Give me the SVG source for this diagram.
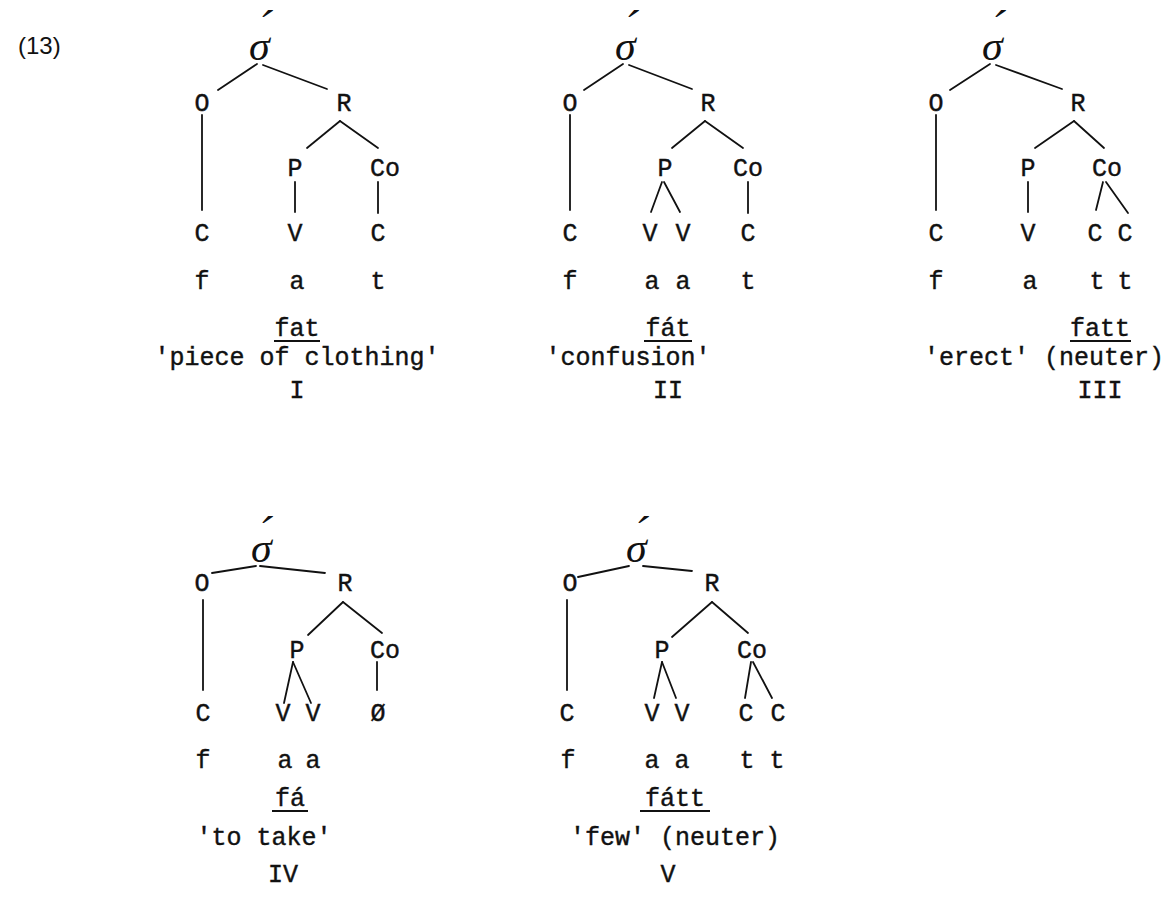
<svg xmlns="http://www.w3.org/2000/svg" width="1170" height="914" viewBox="0 0 1170 914">
<style>
.t{font-family:"Liberation Mono","DejaVu Sans Mono",monospace;font-size:25px;fill:#111;stroke:#111;stroke-width:0.4;text-anchor:middle}
.s{font-family:"Liberation Serif","DejaVu Serif",serif;font-style:italic;font-size:42px;fill:#111}
.a{font-size:46px}
.n{font-family:"Liberation Sans","DejaVu Sans",sans-serif;font-size:24px;fill:#111}
.e line{stroke:#111;stroke-width:1.8;stroke-linecap:round}
.u{stroke:#111;stroke-width:2}
</style>
<rect width="1170" height="914" fill="#fff"/>
<text class="n" x="18" y="54">(13)</text>

<g id="connectors" class="e">
<!-- I -->
<line x1="257" y1="64" x2="218" y2="90"/><line x1="263" y1="65" x2="327" y2="89"/>
<line x1="202" y1="115" x2="202" y2="210"/>
<line x1="340" y1="121" x2="307" y2="148"/><line x1="340" y1="121" x2="378" y2="148"/>
<line x1="295" y1="182" x2="295" y2="212"/>
<line x1="378" y1="182" x2="378" y2="213"/>
<!-- II -->
<line x1="623" y1="64" x2="584" y2="90"/><line x1="629" y1="65" x2="692" y2="89"/>
<line x1="570" y1="115" x2="570" y2="210"/>
<line x1="705" y1="121" x2="672" y2="148"/><line x1="705" y1="121" x2="743" y2="148"/>
<line x1="662" y1="182" x2="651" y2="212"/><line x1="664" y1="182" x2="680" y2="212"/>
<line x1="748" y1="182" x2="748" y2="213"/>
<!-- III -->
<line x1="990" y1="64" x2="950" y2="90"/><line x1="996" y1="65" x2="1062" y2="89"/>
<line x1="936" y1="115" x2="936" y2="210"/>
<line x1="1074" y1="121" x2="1035" y2="148"/><line x1="1074" y1="121" x2="1104" y2="148"/>
<line x1="1028" y1="182" x2="1028" y2="212"/>
<line x1="1103" y1="182" x2="1096" y2="210"/><line x1="1106" y1="182" x2="1128" y2="213"/>
<!-- IV -->
<line x1="256" y1="566" x2="212" y2="573"/><line x1="260" y1="566" x2="325" y2="573"/>
<line x1="203" y1="600" x2="203" y2="690"/>
<line x1="343" y1="602" x2="308" y2="635"/><line x1="343" y1="602" x2="382" y2="633"/>
<line x1="293" y1="662" x2="284" y2="703"/><line x1="293" y1="662" x2="311" y2="703"/>
<line x1="377" y1="662" x2="377" y2="690"/>
<!-- V -->
<line x1="578" y1="577" x2="629" y2="566"/><line x1="643" y1="566" x2="692" y2="571"/>
<line x1="567" y1="600" x2="567" y2="690"/>
<line x1="712" y1="602" x2="672" y2="637"/><line x1="712" y1="602" x2="748" y2="633"/>
<line x1="662" y1="662" x2="654" y2="698"/><line x1="662" y1="662" x2="676" y2="698"/>
<line x1="751" y1="662" x2="745" y2="698"/><line x1="753" y1="662" x2="772" y2="698"/>
</g>

<g id="tree-I">
<text class="s" x="249" y="60">σ<tspan class="a" x="257" dy="-18">´</tspan></text>
<text class="t" x="202" y="111">O</text><text class="t" x="344" y="111">R</text>
<text class="t" x="295" y="176">P</text><text class="t" x="385" y="176">Co</text>
<text class="t" x="202" y="241">C</text><text class="t" x="295" y="241">V</text><text class="t" x="378" y="241">C</text>
<text class="t" x="202" y="289">f</text><text class="t" x="297" y="289">a</text><text class="t" x="378" y="289">t</text>
<text class="t" x="297" y="336">fat</text><line class="u" x1="274" y1="341" x2="320" y2="341"/>
<text class="t" x="297" y="365">'piece of clothing'</text>
<text class="t" x="297" y="398">I</text>
</g>

<g id="tree-II">
<text class="s" x="615" y="60">σ<tspan class="a" x="623" dy="-18">´</tspan></text>
<text class="t" x="570" y="111">O</text><text class="t" x="708" y="111">R</text>
<text class="t" x="665" y="176">P</text><text class="t" x="748" y="176">Co</text>
<text class="t" x="570" y="241">C</text><text class="t" x="650" y="241">V</text><text class="t" x="683" y="241">V</text><text class="t" x="748" y="241">C</text>
<text class="t" x="570" y="289">f</text><text class="t" x="652" y="289">a</text><text class="t" x="683" y="289">a</text><text class="t" x="748" y="289">t</text>
<text class="t" x="668" y="336">fát</text><line class="u" x1="644" y1="341" x2="692" y2="341"/>
<text class="t" x="628" y="365">'confusion'</text>
<text class="t" x="668" y="398">II</text>
</g>

<g id="tree-III">
<text class="s" x="982" y="60">σ<tspan class="a" x="990" dy="-18">´</tspan></text>
<text class="t" x="936" y="111">O</text><text class="t" x="1078" y="111">R</text>
<text class="t" x="1028" y="176">P</text><text class="t" x="1107" y="176">Co</text>
<text class="t" x="936" y="241">C</text><text class="t" x="1028" y="241">V</text><text class="t" x="1095" y="241">C</text><text class="t" x="1125" y="241">C</text>
<text class="t" x="936" y="289">f</text><text class="t" x="1030" y="289">a</text><text class="t" x="1097" y="289">t</text><text class="t" x="1125" y="289">t</text>
<text class="t" x="1100" y="336">fatt</text><line class="u" x1="1070" y1="341" x2="1131" y2="341"/>
<text class="t" x="1044" y="365">'erect' (neuter)</text>
<text class="t" x="1100" y="398">III</text>
</g>

<g id="tree-IV">
<text class="s" x="251" y="562">σ<tspan class="a" x="257" dy="-14">´</tspan></text>
<text class="t" x="202" y="591">O</text><text class="t" x="345" y="591">R</text>
<text class="t" x="297" y="658">P</text><text class="t" x="385" y="658">Co</text>
<text class="t" x="203" y="721">C</text><text class="t" x="283" y="721">V</text><text class="t" x="313" y="721">V</text><text class="t" x="378" y="721">Ø</text>
<text class="t" x="203" y="768">f</text><text class="t" x="285" y="768">a</text><text class="t" x="313" y="768">a</text>
<text class="t" x="290" y="806">fá</text><line class="u" x1="272" y1="811" x2="308" y2="811"/>
<text class="t" x="264" y="845">'to take'</text>
<text class="t" x="283" y="882">IV</text>
</g>

<g id="tree-V">
<text class="s" x="626" y="562">σ<tspan class="a" x="633" dy="-14">´</tspan></text>
<text class="t" x="570" y="591">O</text><text class="t" x="712" y="591">R</text>
<text class="t" x="662" y="658">P</text><text class="t" x="752" y="658">Co</text>
<text class="t" x="567" y="721">C</text><text class="t" x="652" y="721">V</text><text class="t" x="682" y="721">V</text><text class="t" x="746" y="721">C</text><text class="t" x="778" y="721">C</text>
<text class="t" x="568" y="768">f</text><text class="t" x="652" y="768">a</text><text class="t" x="682" y="768">a</text><text class="t" x="747" y="768">t</text><text class="t" x="777" y="768">t</text>
<text class="t" x="675" y="806">fátt</text><line class="u" x1="640" y1="811" x2="710" y2="811"/>
<text class="t" x="675" y="845">'few' (neuter)</text>
<text class="t" x="668" y="882">V</text>
</g>
</svg>
